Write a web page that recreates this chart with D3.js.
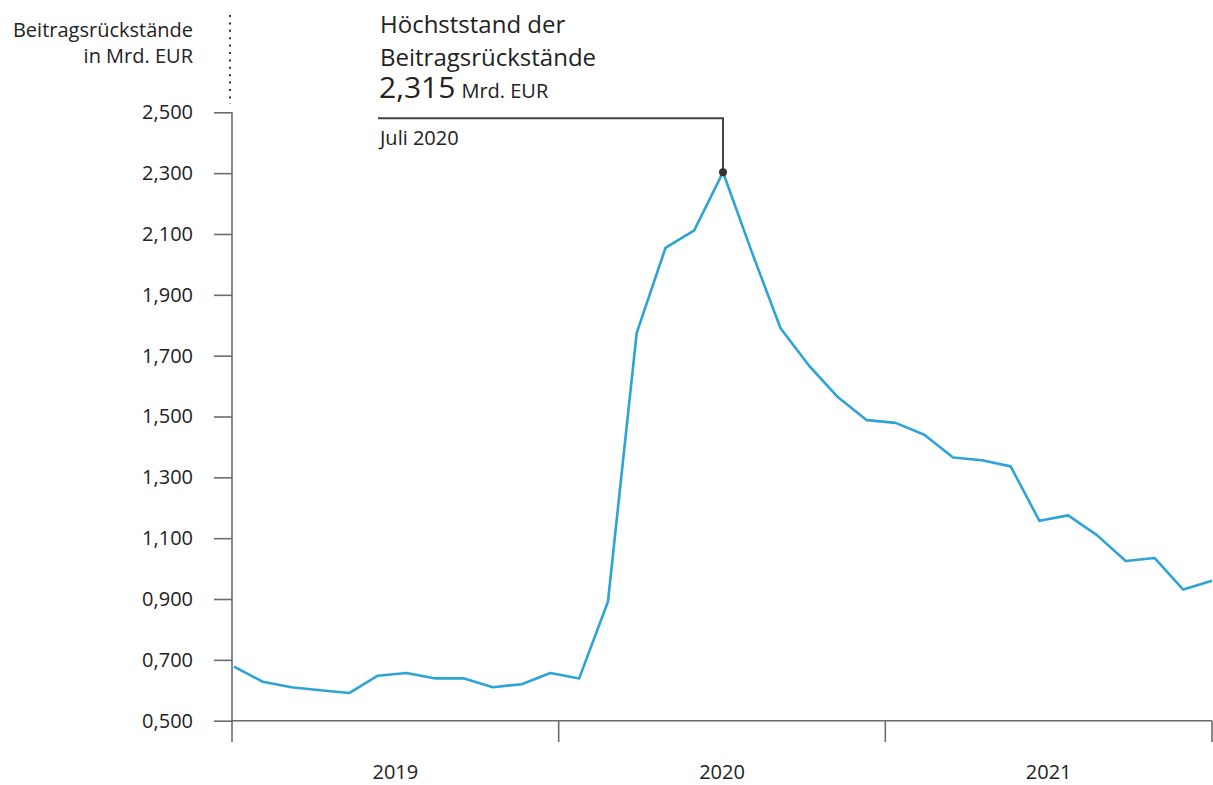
<!DOCTYPE html>
<html><head><meta charset="utf-8">
<script src="https://cdn.jsdelivr.net/npm/d3@7"></script>
<style>
html,body{margin:0;padding:0;background:#fff;}
text{font-family:"Open Sans",sans-serif;fill:#222;}
</style></head>
<body>
<svg id="chart" width="1213" height="785"></svg>
<script>
// ---- data ----
const months = ["2019-02","2019-03","2019-04","2019-05","2019-06","2019-07","2019-08","2019-09","2019-10","2019-11","2019-12",
  "2020-01","2020-02","2020-03","2020-04","2020-05","2020-06","2020-07","2020-08","2020-09","2020-10","2020-11","2020-12",
  "2021-01","2021-02","2021-03","2021-04","2021-05","2021-06","2021-07","2021-08","2021-09","2021-10","2021-11","2021-12"];
const arrears = [0.678,0.628,0.610,0.600,0.591,0.648,0.657,0.639,0.639,0.610,0.620,
  0.657,0.639,0.891,1.775,2.054,2.112,2.303,2.041,1.790,1.666,1.563,1.488,
  1.479,1.440,1.365,1.356,1.336,1.157,1.175,1.110,1.025,1.035,0.931,0.960];
const years = ["2019","2020","2021"];
const yTicks = [0.5,0.7,0.9,1.1,1.3,1.5,1.7,1.9,2.1,2.3,2.5];
const yLabelLines = ["Beitragsrückstände","in Mrd. EUR"];
const peakTitle = ["Höchststand der","Beitragsrückstände"];
const peakValueText = "2,315";
const peakUnit = "Mrd. EUR";
const peakDate = "Juli 2020";

// ---- chart ----
const svg = d3.select("#chart");
const x = d3.scalePoint().domain(months).range([234, 1212]);
const xYear = d3.scaleBand().domain(years).range([232, 1212]).padding(0);
const y = d3.scaleLinear().domain([0.5, 2.5]).range([720.7, 112.3]);
const fmt = v => d3.format(".3f")(v).replace(".", ",");
const axisColor = "#6b6b6b";
const W = 400;

// y axis
const gy = svg.append("g").attr("transform", "translate(232,0)")
  .call(d3.axisLeft(y).tickValues(yTicks).tickFormat(fmt).tickSize(18).tickSizeOuter(0).tickPadding(21));
gy.select(".domain").remove();
gy.selectAll(".tick line").attr("stroke", axisColor).attr("stroke-width", 1.6);
gy.selectAll(".tick text").attr("font-size", 20).attr("font-weight", W)
  .attr("font-family", "Open Sans").attr("fill", "#222");
svg.append("line").attr("x1", 232).attr("x2", 232).attr("y1", y(2.5)).attr("y2", 742)
  .attr("stroke", axisColor).attr("stroke-width", 1.6);

// x axis (year bands)
svg.append("line").attr("x1", 232).attr("x2", 1212).attr("y1", y(0.5)).attr("y2", y(0.5))
  .attr("stroke", axisColor).attr("stroke-width", 1.6);
const bounds = years.map(d => xYear(d)).concat([xYear(years[years.length-1]) + xYear.bandwidth()]);
svg.selectAll(".ytick").data(bounds.slice(1)).join("line")
  .attr("x1", d => d).attr("x2", d => d).attr("y1", y(0.5)).attr("y2", 742)
  .attr("stroke", axisColor).attr("stroke-width", 1.6);
svg.selectAll(".ylab").data(years).join("text")
  .attr("x", d => xYear(d) + xYear.bandwidth()/2).attr("y", 779)
  .attr("text-anchor", "middle").attr("font-size", 20).attr("font-weight", W).text(d => d);

// y label + dotted line
svg.selectAll(".ylabel").data(yLabelLines).join("text")
  .attr("x", 193).attr("y", (d,i) => 36.7 + i*26.6).attr("text-anchor", "end")
  .attr("font-size", 20).attr("font-weight", W).text(d => d);
svg.append("line").attr("x1", 230).attr("x2", 230).attr("y1", 15).attr("y2", 104)
  .attr("stroke", "#333").attr("stroke-width", 2).attr("stroke-dasharray", "2,5.4");

// line
const data = months.map((m,i) => ({m, v: arrears[i]}));
svg.append("path").datum(data)
  .attr("fill", "none").attr("stroke", "#2ea3d6").attr("stroke-width", 2.6)
  .attr("stroke-linejoin", "round")
  .attr("d", d3.line().x(d => x(d.m)).y(d => y(d.v)));

// annotation
const peak = data[d3.maxIndex(data, d => d.v)];
const px = x(peak.m), py = y(peak.v);
svg.append("path").attr("fill", "none").attr("stroke", "#444").attr("stroke-width", 2)
  .attr("d", `M378,118.3H${px}V${py}`);
svg.append("circle").attr("cx", px).attr("cy", py).attr("r", 4).attr("fill", "#333");
svg.selectAll(".ptitle").data(peakTitle).join("text")
  .attr("x", 380).attr("y", (d,i) => 33 + i*32.7).attr("font-size", 24).attr("font-weight", W).text(d => d);
const vt = svg.append("text").attr("x", 379).attr("y", 98);
vt.append("tspan").attr("font-size", 30).attr("font-weight", 500).text(peakValueText);
vt.append("tspan").attr("dx", 6).attr("font-size", 20).attr("font-weight", W).text(peakUnit);
svg.append("text").attr("x", 380).attr("y", 145).attr("font-size", 20).attr("font-weight", W).text(peakDate);
</script>
</body></html>
